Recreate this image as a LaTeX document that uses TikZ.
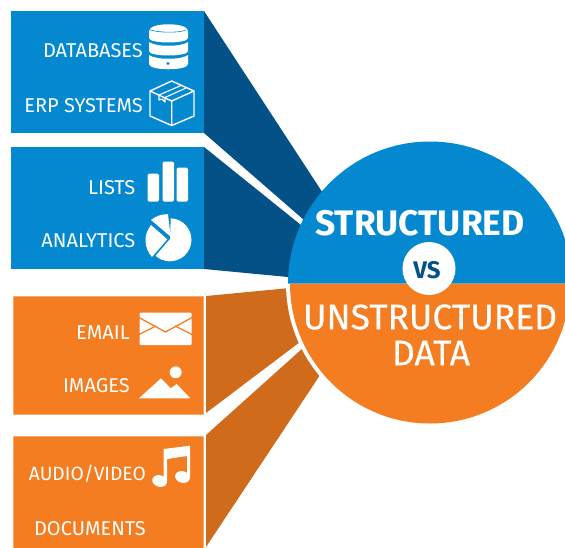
\documentclass[tikz,border=0pt]{standalone}
\usepackage{fontspec}
\setmainfont{Fira Sans}
\newfontfamily\medfont[FakeBold=0.35]{Fira Sans}
\definecolor{bluemain}{HTML}{0489D1}
\definecolor{bluedark}{HTML}{045188}
\definecolor{orangemain}{HTML}{F37D20}
\definecolor{orangedark}{HTML}{CF6B1A}
\tikzset{
  panelblue/.style={fill=bluemain,draw=none},
  panelorange/.style={fill=orangemain,draw=orangemain!65!white,line width=0.8pt},
  sideblue/.style={fill=bluedark,draw=none},
  sideorange/.style={fill=orangedark,draw=none},
  itemlabel/.style={text=white,font=\fontsize{20}{22}\selectfont,inner sep=0pt},
  iconfill/.style={fill=white,draw=none},
  iconline/.style={draw=white,line width=1.4pt,line join=round},
  bigtext/.style={text=white,inner sep=0pt}
}
\begin{document}
\begin{tikzpicture}[x=1pt,y=-1pt]
\useasboundingbox (0,0) rectangle (565,547);
\clip (0,0) rectangle (565,547);
% side faces
\fill[sideblue] (204,11) -- (330,204) -- (300,280) -- (288,277) -- (204,269) -- (204,147) -- (301,225) -- (304,220) -- (204,133) -- cycle;
\fill[sideorange] (206,296) -- (290,288) -- (300,342) -- (206,413) -- cycle;
\fill[sideorange] (206,435) -- (303,348) -- (330,360) -- (206,547) -- cycle;
% panels
\path[panelblue] (11,11) rectangle (204,133);
\path[panelblue] (11,147) rectangle (204,269);
\path[panelorange] (13,296) rectangle (203,414);
\path[panelorange] (13,436) rectangle (203,560);
% circle
\fill[white] (286,283.5) arc[start angle=180,end angle=0,radius=144];
\fill[bluemain] (288,283.5) arc[start angle=180,end angle=360,radius=142];
\fill[orangemain] (290,283.5) arc[start angle=180,end angle=0,radius=140];
\node[circle,fill=white,minimum size=53pt,inner sep=0pt] (vsdot) at (429,268.5) {};
\node[text=bluedark,font=\fontsize{24}{26}\selectfont\bfseries,inner sep=0pt] (vs) at (427,270) {VS};
\node[bigtext,font=\fontsize{35.5}{38}\selectfont\bfseries] (s) at (420,223) {STRUCTURED};
\node[bigtext,font=\fontsize{35.5}{38}\selectfont\medfont] (u) at (430,317) {UNSTRUCTURED};
\node[bigtext,font=\fontsize{35.5}{38}\selectfont\medfont] (d) at (431,353) {DATA};
% labels
\node[itemlabel,anchor=east] (db) at (143,50.5) {DATABASES};
\node[itemlabel,anchor=east] (erp) at (143,105.5) {ERP SYSTEMS};
\node[itemlabel,anchor=east] (li) at (135.5,187.5) {LISTS};
\node[itemlabel,anchor=east] (an) at (135.5,240.5) {ANALYTICS};
\node[itemlabel,anchor=east] (em) at (130,332.5) {EMAIL};
\node[itemlabel,anchor=east] (im) at (130,385.5) {IMAGES};
\node[itemlabel,anchor=east,font=\fontsize{19.2}{22}\selectfont] (au) at (146,473.5) {AUDIO/VIDEO};
\node[itemlabel,anchor=east] (doc) at (146,528.5) {DOCUMENTS};
% database icon
\fill[iconfill] (149,31) .. controls (149,22) and (188,22) .. (188,31) -- (188,38) .. controls (188,44) and (149,44) .. (149,38) -- cycle;
\fill[iconfill] (149,42) .. controls (155,47) and (182,47) .. (188,42) -- (188,51) .. controls (188,57) and (149,57) .. (149,51) -- cycle;
\fill[iconfill] (149,55) .. controls (155,60) and (182,60) .. (188,55) -- (188,64) .. controls (188,71) and (149,71) .. (149,64) -- cycle;
\draw[bluemain,line width=0.6pt] (149,29.5) .. controls (158,33) and (180,33) .. (186,30);
\fill[bluemain] (168,63.5) circle (1.7);
% box icon
\draw[iconline] (171.7,81) -- (194,91) -- (194,116) -- (171.7,125.5) -- (150,116) -- (150,91) -- cycle;
\draw[iconline] (150,91) -- (171.7,101) -- (194,91) (171.7,101) -- (171.7,125.5);
\draw[iconline,line width=1.1pt] (181,85.5) -- (159,95) -- (159,100) -- (162,99) -- (165,102) -- (165,97.5) -- (186,88);
% bars
\fill[iconfill,rounded corners=1.5pt] (147.5,173.5) rectangle (159,201.5);
\fill[iconfill,rounded corners=1.5pt] (162.5,161.5) rectangle (174,201.5);
\fill[iconfill,rounded corners=1.5pt] (176.5,167.5) rectangle (188,201.5);
% pie
\fill[iconfill] (170.7,218.3) arc[start angle=-88,end angle=132,radius=21.5] -- (170,239) -- cycle;
\fill[iconfill] (151,220) arc[start angle=-130,end angle=-88,radius=25] -- (170.7,236.7) -- cycle;
\fill[iconfill] (151,225) -- (167.3,239.3) -- (152,257) .. controls (144,248) and (143,235) .. (151,225) -- cycle;
% envelope
\fill[iconfill,rounded corners=1pt] (139.5,312.5) rectangle (191.5,345);
\draw[orangemain,line width=1.3pt] (138,317) -- (165.5,332) -- (193,317);
\draw[orangemain,line width=1.3pt] (138,335) -- (156,326) (193,335) -- (175,326);
% mountains
\fill[iconfill] (139,398.3) -- (161,378.3) -- (170.7,388.3) -- (176.7,384) -- (190.3,398.3) -- cycle;
\fill[iconfill] (175.7,372.3) circle (6);
% note
\fill[iconfill] (163.5,449) -- (190,445.7) -- (190,477) -- (187,477) -- (187,456) -- (167,459) -- (167,481) -- (163.5,481) -- cycle;
\fill[iconfill,rotate around={-15:(159.7,481)}] (159.7,481) ellipse (7.5 and 5.8);
\fill[iconfill,rotate around={-15:(182.5,477)}] (182.5,477) ellipse (7.5 and 5.8);
\end{tikzpicture}
\end{document}
